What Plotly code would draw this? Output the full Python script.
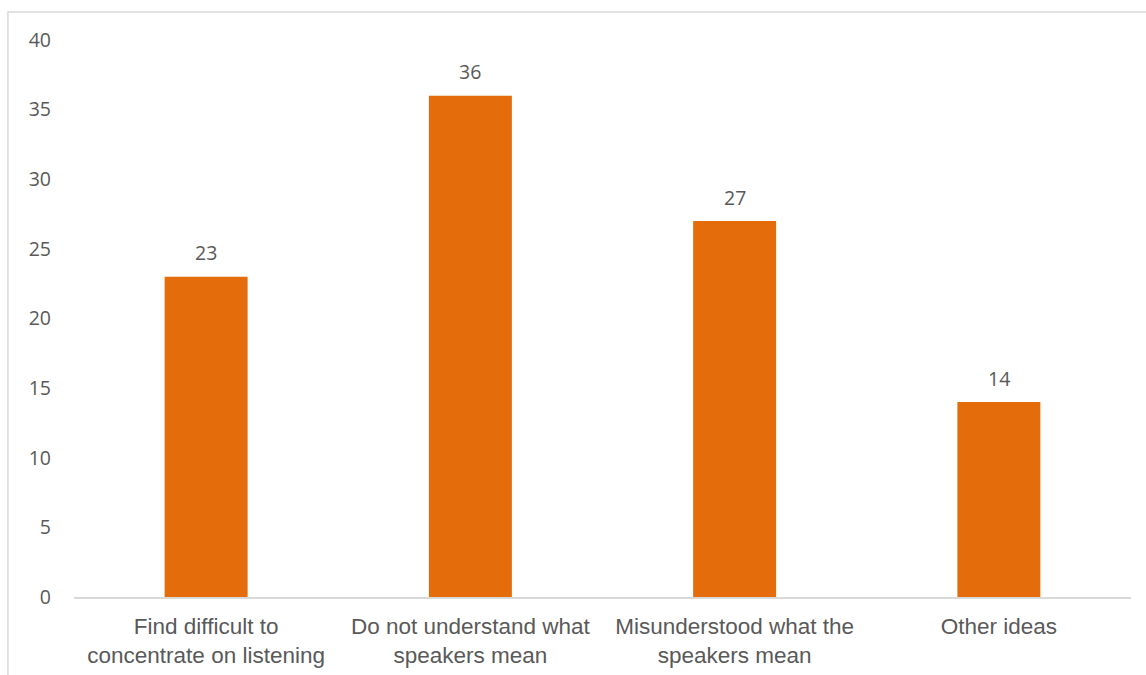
import plotly.graph_objects as go

categories = ["Find difficult to<br>concentrate on listening",
              "Do not understand what<br>speakers mean",
              "Misunderstood what the<br>speakers mean",
              "Other ideas"]
values = [23, 36, 27, 14]
y_ticks = [0, 5, 10, 15, 20, 25, 30, 35, 40]

BAR = "#E46C0A"
TXT = "#595959"

fig = go.Figure(go.Bar(x=categories, y=values, marker_color=BAR, marker_line_width=0))

for c, v in zip(categories, values):
    fig.add_annotation(x=c, y=v, text=str(v), showarrow=False, yshift=24,
                       font=dict(family="Open Sans", size=19.5, color=TXT))

fig.add_shape(type="rect", xref="paper", yref="paper",
              x0=-0.0625, x1=1.2, y0=-0.5, y1=1.0503,
              line=dict(color="#D9D9D9", width=1.5), fillcolor="rgba(0,0,0,0)", layer="below")

fig.update_layout(
    width=1146, height=675,
    margin=dict(l=74, r=15, t=40, b=78),
    plot_bgcolor="white", paper_bgcolor="white",
    bargap=0.686,
    showlegend=False,
    xaxis=dict(showline=True, linecolor="#D9D9D9", linewidth=1.5, ticks="",
               ticklabelstandoff=8, automargin=False,
               tickfont=dict(family="Liberation Sans", size=22.5, color=TXT),
               showgrid=False, zeroline=False, fixedrange=True),
    yaxis=dict(range=[0, 40], tickvals=y_ticks, showgrid=False, zeroline=False,
               showline=False, ticks="", ticklabelstandoff=22, automargin=False,
               tickfont=dict(family="Open Sans", size=19.5, color=TXT)),
)

fig.write_html("out.html")
